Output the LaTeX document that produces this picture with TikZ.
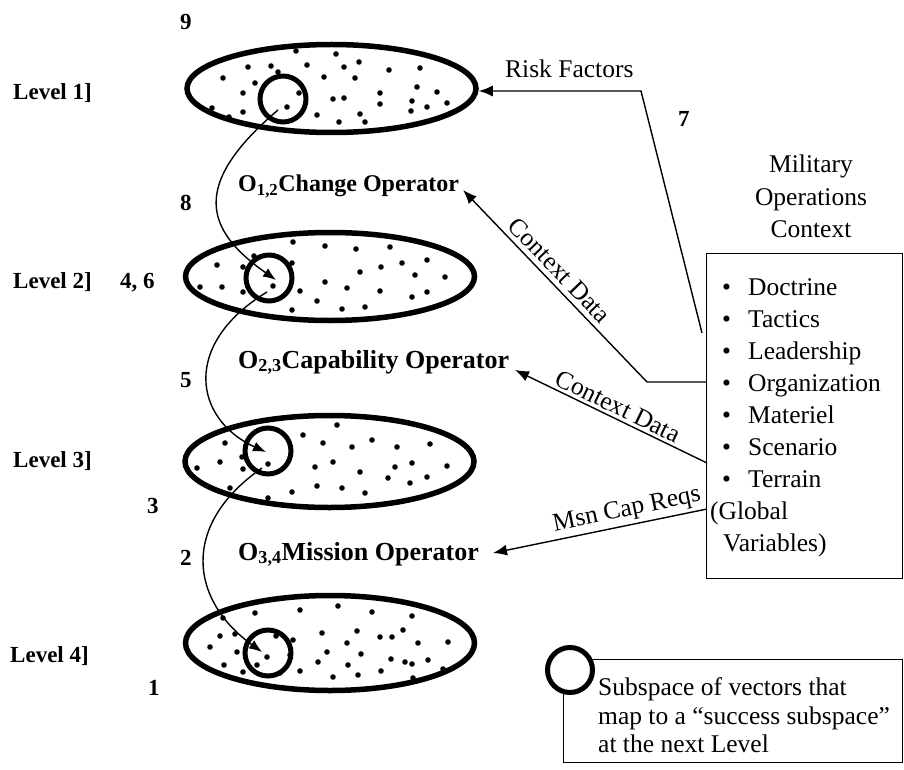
\documentclass[tikz,border=0pt]{standalone}
\usepackage{fontspec}
\setmainfont{Liberation Serif}
\usetikzlibrary{shapes.geometric,arrows.meta}
\begin{document}
\begin{tikzpicture}[x=1pt,y=-1pt,
  lvl/.style={ellipse,draw,line width=5.5pt,minimum width=289pt,inner sep=0pt},
  sub/.style={circle,draw,line width=5pt,minimum size=46pt,inner sep=0pt},
  bnum/.style={font=\fontsize{23}{27}\selectfont\bfseries,anchor=base west,inner sep=0pt},
  opr/.style={font=\fontsize{26}{30}\selectfont\bfseries,anchor=base west,inner sep=0pt},
  txt/.style={font=\fontsize{25.5}{30}\selectfont,anchor=base west,inner sep=0pt},
  ctxt/.style={font=\fontsize{25.5}{30}\selectfont,anchor=base,inner sep=0pt},
  rtxt/.style={font=\fontsize{25.5}{30}\selectfont,inner sep=2pt},
  flow/.style={line width=1.4pt,-{Latex[length=14pt,width=11pt]}},
  cv/.style={line width=1.4pt,-{Latex[length=13pt,width=10pt]}}
]
\useasboundingbox (0,0) rectangle (904,770);

% level ellipses
\node[lvl,minimum height=88pt] (e1) at (331.5,88.5) {};
\node[lvl,minimum height=88pt] (e2) at (330,276.5) {};
\node[lvl,minimum height=92pt] (e3) at (329.5,461.5) {};
\node[lvl,minimum height=95pt] (e4) at (330,643) {};

% dots
\foreach \p in {(296,51),(336,54),(248,67),(271,66),(278,72),(307,65),(344,67),(359,62),(389,70),(420,68),(223,78),(255,83),(324,77),(355,78),(243,93),(299,93),(380,93),(417,87),(437,92),(333,99),(344,98),(412,101),(427,107),(447,103),(380,104),(212,108),(229,117),(243,112),(287,107),(317,115),(339,122),(360,114),(365,122),(411,111)}
  \fill \p circle (2.8pt);
\foreach \p in {(293,242),(217,265),(243,267),(200,287),(222,287),(243,292),(292,263),(273,286),(325,282),(300,291),(317,301),(292,310),(347,288),(342,309),(365,307),(360,272),(381,267),(402,263),(380,291),(415,275),(412,297),(427,292),(445,277),(427,260),(325,246),(356,249),(390,247),(254,256)}
  \fill \p circle (2.8pt);
\foreach \p in {(225,443),(220,462),(197,468),(230,488),(243,469),(242,457),(337,425),(303,435),(323,443),(352,447),(372,440),(397,447),(430,444),(268,464),(315,467),(333,462),(360,472),(395,467),(412,463),(447,466),(388,478),(427,477),(410,483),(268,498),(292,492),(317,486),(342,488),(365,493)}
  \fill \p circle (2.8pt);
\foreach \p in {(223,618),(255,613),(220,636),(235,634),(210,647),(237,652),(224,665),(243,672),(257,665),(267,657),(276,636),(290,655),(293,640),(280,673),(300,671),(322,633),(327,652),(318,662),(347,643),(361,654),(348,665),(333,677),(358,675),(357,631),(380,637),(392,637),(403,630),(418,643),(448,642),(391,659),(405,662),(412,664),(428,660),(381,671),(413,678),(443,669),(300,610),(338,606),(372,612),(412,616)}
  \fill \p circle (2.8pt);

% subspace circles
\node[sub] (c1) at (283,99) {};
\node[sub] (c2) at (269,278) {};
\node[sub] (c3) at (268,451) {};
\node[sub] (c4) at (268,653) {};

% curved mapping arrows
\coordinate (s1) at (278,110); \coordinate (t1) at (276,280);
\coordinate (s2) at (267,292); \coordinate (t2) at (266,452);
\coordinate (s3) at (262,468); \coordinate (t3) at (262,652);
\draw[cv] (s1) .. controls (190,185) and (205,230) .. (t1);
\draw[cv] (s2) .. controls (180,345) and (195,420) .. (t2);
\draw[cv] (s3) .. controls (180,525) and (190,600) .. (t3);

% level labels and numbers
\node[bnum] (l1) at (13,100) {Level 1]};
\node[bnum] (l2) at (13,288) {Level 2]};
\node[bnum] (l3) at (13,467) {Level 3]};
\node[bnum] (l4) at (10,662) {Level 4]};
\node[bnum] (n46) at (120,288) {4, 6};
\node[bnum] (n9) at (180,30) {9};
\node[bnum] (n8) at (180,210) {8};
\node[bnum] (n5) at (180,387) {5};
\node[bnum] (n3) at (147,513) {3};
\node[bnum] (n2) at (180,565) {2};
\node[bnum] (n1) at (148,695) {1};
\node[bnum] (n7) at (678,127) {7};

% operators
\node[opr,font=\fontsize{24}{28}\selectfont\bfseries] (o12) at (238,192) {O\textsubscript{1,2}Change Operator};
\node[opr] (o23) at (238,368) {O\textsubscript{2,3}Capability Operator};
\node[opr] (o34) at (238,560) {O\textsubscript{3,4}Mission Operator};

% context box
\node[ctxt] (m1) at (811,173) {Military};
\node[ctxt] (m2) at (811,205) {Operations};
\node[ctxt] (m3) at (811,237) {Context};
\node[draw,line width=1.3pt,anchor=north west,minimum width=196pt,minimum height=325pt,inner sep=0pt] (ctx) at (706,253) {};
\foreach \t/\y in {Doctrine/295,Tactics/327,Leadership/359,Organization/391,Materiel/423,Scenario/455,Terrain/487}
  \node[txt] at (722,\y) {\makebox[26pt][l]{\textbullet}\t};
\node[txt] (g1) at (710,519) {(Global};
\node[txt] (g2) at (723,551) {Variables)};

% risk factors
\node[txt] (rf) at (505,78) {Risk Factors};
\coordinate (rfe) at (702,333);
\coordinate (rfk) at (641,91);
\draw[flow] (rfe) -- (rfk) -- (e1.east |- rfk);

% context data 1
\coordinate (cd1a) at (706,382);
\coordinate (cd1k) at (647,382);
\coordinate (cd1t) at (463,190);
\draw[flow] (cd1a) -- (cd1k) -- node[rtxt,sloped,above=3pt,pos=0.53] (cdl1) {Context Data} (cd1t);

% context data 2
\coordinate (cd2a) at (707,463);
\coordinate (cd2t) at (515,370);
\draw[flow] (cd2a) -- node[rtxt,sloped,above=1pt,pos=0.49] (cdl2) {Context Data} (cd2t);

% mission capability requirements
\coordinate (msa) at (707,509);
\coordinate (mst) at (493,553);
\draw[flow] (msa) -- node[rtxt,sloped,above=1pt,pos=0.36] (msl) {Msn Cap Reqs} (mst);

% legend
\node[draw,line width=1.3pt,anchor=north west,minimum width=339pt,minimum height=103pt,inner sep=0pt] (leg) at (563,659) {};
\node[sub,line width=5pt,minimum size=45pt,fill=white] (lc) at (570,670) {};
\node[txt] (lt1) at (598,695) {Subspace of vectors that};
\node[txt] (lt2) at (598,724) {map to a ``success subspace''};
\node[txt] (lt3) at (598,752) {at the next Level};
\end{tikzpicture}
\end{document}
